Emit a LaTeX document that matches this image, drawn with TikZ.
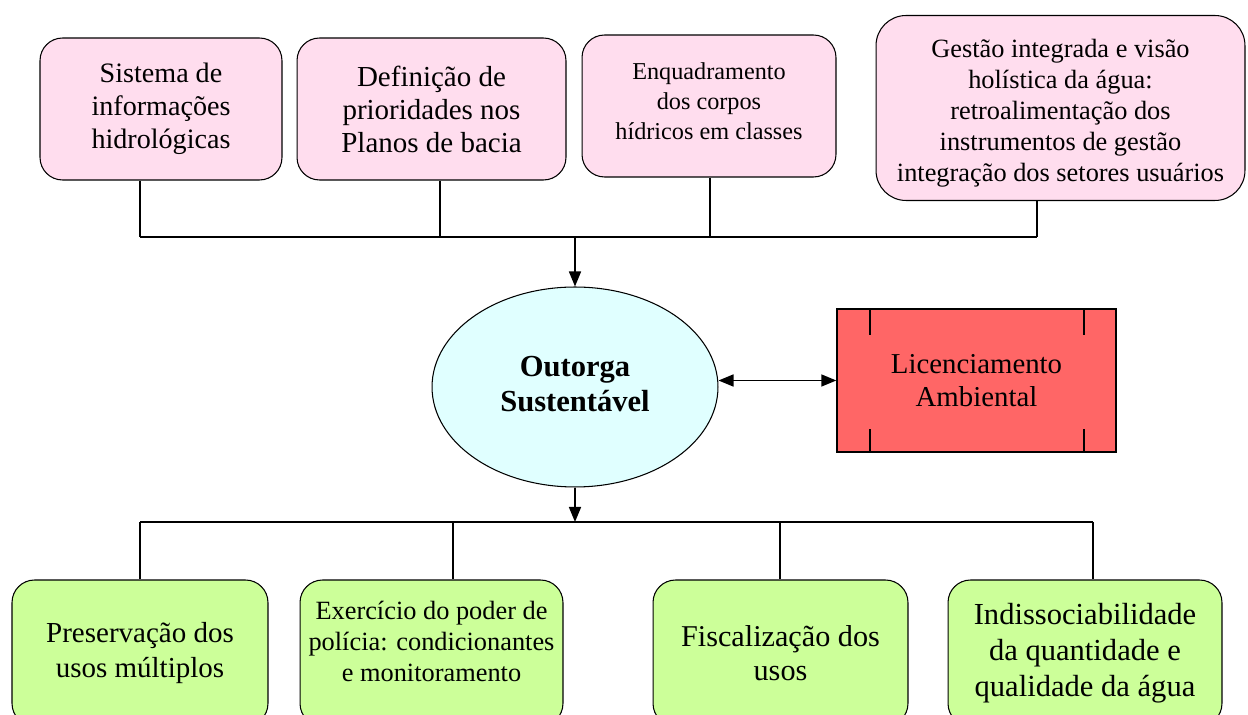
\documentclass[tikz,border=0pt]{standalone}
\usepackage{fontspec}
\setmainfont{Liberation Serif}
\usetikzlibrary{shapes.geometric,arrows.meta}
\definecolor{rosepale}{RGB}{255,221,238}
\definecolor{cyanpale}{RGB}{224,255,255}
\definecolor{vertpale}{RGB}{204,255,153}
\definecolor{rougelic}{RGB}{255,102,102}
\begin{document}
\begin{tikzpicture}[x=0.02cm, y=-0.02cm]
\tikzset{boite/.style={draw, rounded corners=0.45cm, align=center, inner sep=2pt, line width=0.6pt},
  haut/.style={boite, fill=rosepale, minimum height=2.84cm},
  bas/.style={boite, fill=vertpale, minimum height=2.92cm},
  lien/.style={line width=0.9pt},
  fleche/.style={lien, -{Triangle[length=0.3cm, width=0.24cm]}}}
\useasboundingbox (0,0) rectangle (1248,715);
\clip (0,0) rectangle (1248,715);
% instruments
\node[haut, minimum width=4.84cm, font=\fontsize{16}{18.8}\selectfont] (H1) at (161,109) {Sistema de\\informações\\hidrológicas};
\node[haut, minimum width=5.38cm, font=\fontsize{16.5}{18.8}\selectfont] (H2) at (431.5,109) {Definição de\\prioridades nos\\Planos de bacia};
\node[haut, minimum width=5.08cm, text depth=0.2cm, font=\fontsize{13.8}{17}\selectfont] (H3) at (709,106) {Enquadramento\\dos corpos\\hídricos em classes};
\node[haut, minimum width=7.38cm, minimum height=3.7cm, rounded corners=0.6cm, font=\fontsize{15}{17.7}\selectfont] (H4) at (1060.5,108) {\rule{0pt}{16.5pt}Gestão integrada e visão\\holística da água:\\retroalimentação dos\\instrumentos de gestão\\integração dos setores usuários};
% centre
\node[draw, ellipse, fill=cyanpale, minimum width=5.72cm, minimum height=4cm, inner sep=0pt, text depth=0.12cm, line width=0.6pt, align=center, font=\fontsize{17.4}{19.8}\selectfont\bfseries] (OS) at (575,387) {Outorga\\Sustentável};
\node[draw, fill=rougelic, minimum width=5.58cm, minimum height=2.86cm, line width=0.8pt, align=center, font=\fontsize{16.4}{18.8}\selectfont] (LA) at (976.5,380.5) {Licenciamento\\Ambiental};
\draw[lien, line width=1.1pt] ([xshift=0.68cm]LA.north west) -- +(0,27);
\draw[lien, line width=1.1pt] ([xshift=-0.66cm]LA.north east) -- +(0,27);
\draw[lien, line width=1.1pt] ([xshift=0.68cm]LA.south west) -- +(0,-24);
\draw[lien, line width=1.1pt] ([xshift=-0.66cm]LA.south east) -- +(0,-24);
% resultados
\node[bas, minimum width=5.12cm, font=\fontsize{16.5}{19.4}\selectfont] (B1) at (140,653) {Preservação dos\\usos múltiplos};
\node[bas, minimum width=5.26cm, text depth=0.48cm, font=\fontsize{15}{17.6}\selectfont] (B2) at (431.5,653) {Exercício do poder de\\polícia: condicionantes\\e monitoramento};
\node[bas, minimum width=5.1cm, font=\fontsize{17.2}{19.2}\selectfont] (B3) at (780.5,653) {Fiscalização dos\\usos};
\node[bas, minimum width=5.48cm, font=\fontsize{17.4}{20.4}\selectfont] (B4) at (1085,653) {Indissociabilidade\\da quantidade e\\qualidade da água};
% barramentos
\coordinate (t1) at (140,237);
\coordinate (t2) at (440,237);
\coordinate (t3) at (710,237);
\coordinate (t4) at (1037,237);
\draw[lien] (t1 |- H1.south) -- (t1);
\draw[lien] (t2 |- H2.south) -- (t2);
\draw[lien] (t3 |- H3.south) -- (t3);
\draw[lien] (t4 |- H4.south) -- (t4);
\draw[lien] (t1) -- (t4);
\draw[fleche] (OS.north |- t1) -- (OS.north);
\draw[lien, {Triangle[length=0.3cm, width=0.24cm]}-{Triangle[length=0.3cm, width=0.24cm]}] (OS.east |- LA.west) -- (LA.west);
\coordinate (b1) at (140,522);
\coordinate (b2) at (453,522);
\coordinate (b3) at (780,522);
\coordinate (b4) at (1093,522);
\draw[fleche] (OS.south) -- (OS.south |- b1);
\draw[lien] (b1) -- (b4);
\draw[lien] (b1) -- (b1 |- B1.north);
\draw[lien] (b2) -- (b2 |- B2.north);
\draw[lien] (b3) -- (b3 |- B3.north);
\draw[lien] (b4) -- (b4 |- B4.north);
\end{tikzpicture}
\end{document}
